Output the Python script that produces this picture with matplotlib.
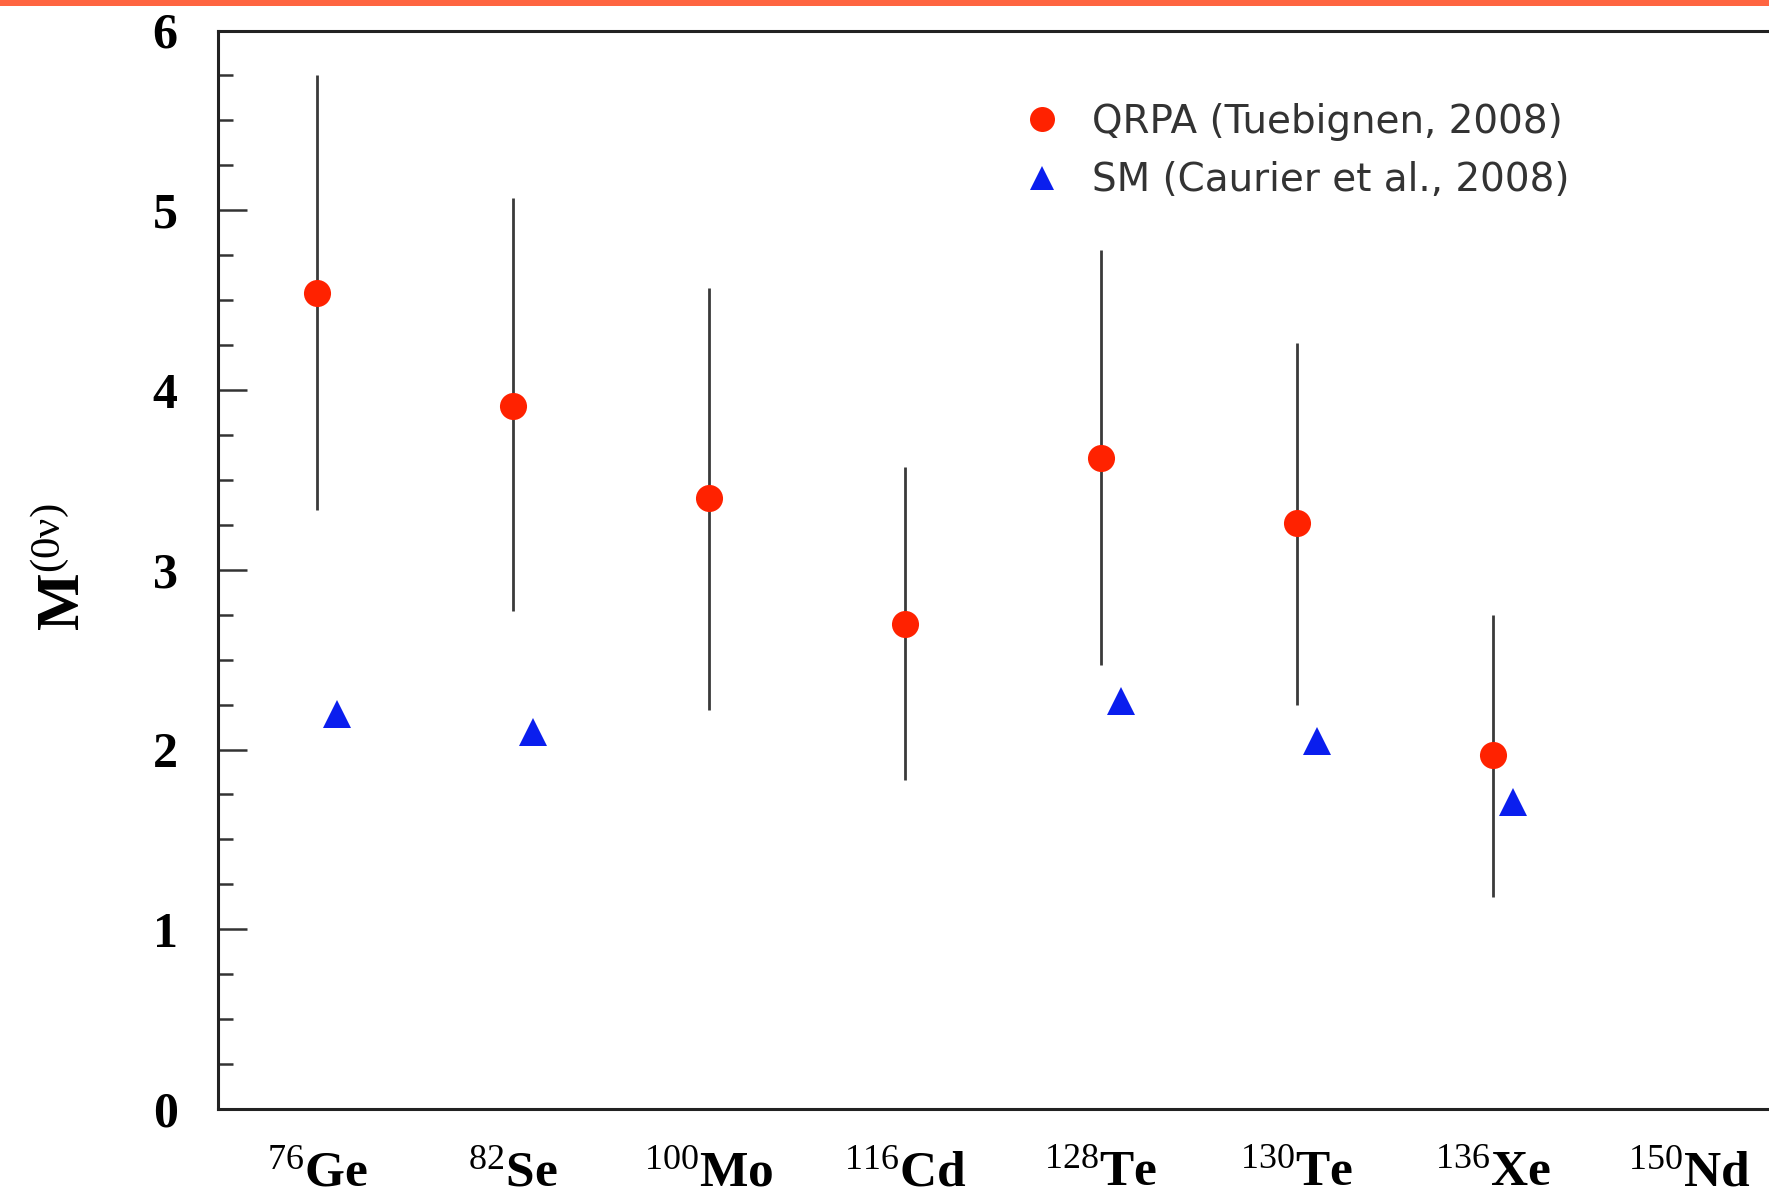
import numpy as np
import matplotlib
matplotlib.use("Agg")
import matplotlib.pyplot as plt
from matplotlib.ticker import MultipleLocator, FixedLocator, NullFormatter

# Nuclear matrix elements for neutrinoless double-beta decay
isotopes = ["Ge", "Se", "Mo", "Cd", "Te", "Te", "Xe", "Nd"]
mass_numbers = ["76", "82", "100", "116", "128", "130", "136", "150"]

qrpa_value = [4.54, 3.91, 3.40, 2.70, 3.62, 3.26, 1.97]
qrpa_upper = [5.75, 5.07, 4.57, 3.57, 4.78, 4.26, 2.75]
qrpa_lower = [3.33, 2.77, 2.22, 1.83, 2.47, 2.25, 1.18]

sm_value = [2.20, 2.10, np.nan, np.nan, 2.27, 2.05, 1.71]

plt.rcParams["mathtext.fontset"] = "custom"
plt.rcParams["mathtext.rm"] = "Liberation Serif"
plt.rcParams["mathtext.bf"] = "Liberation Serif:bold"
plt.rcParams["mathtext.it"] = "Liberation Serif:italic"

W, H = 1769, 1199
fig = plt.figure(figsize=(W / 100, H / 100), dpi=100)
fig.patch.set_facecolor("white")

# orange strip along the top edge
fig.add_artist(plt.Rectangle((0, 1 - 6 / H), 1, 6 / H, transform=fig.transFigure,
                             facecolor="#FF6541", edgecolor="none"))

left_px, right_px, top_px, bottom_px = 218, 1800, 30.5, 1109
ax = fig.add_axes([left_px / W, 1 - bottom_px / H,
                   (right_px - left_px) / W, (bottom_px - top_px) / H])

x = np.arange(len(qrpa_value))
val = np.array(qrpa_value)
yerr = np.vstack([val - np.array(qrpa_lower), np.array(qrpa_upper) - val])

ax.errorbar(x, val, yerr=yerr, fmt="none", ecolor="#3a3a3a", elinewidth=2.0,
            capsize=0, zorder=2)
ax.plot(x, val, linestyle="none", marker="o", markersize=19.5,
        color="#FF2200", markeredgewidth=0, zorder=3,
        label="QRPA (Tuebignen, 2008)")
ax.plot(x + 0.1, sm_value, linestyle="none", marker="^", markersize=20,
        color="#0A1EEE", markeredgewidth=0, zorder=3,
        label="SM (Caurier et al., 2008)")

px_per_cat = 196.0
x0_px = 317.0
ax.set_xlim((left_px - x0_px) / px_per_cat, (right_px - x0_px) / px_per_cat)
ax.set_ylim(0, 6)

# y axis ticks
ax.yaxis.set_major_locator(MultipleLocator(1))
ax.yaxis.set_minor_locator(MultipleLocator(0.25))
ax.tick_params(axis="y", which="major", direction="in", length=21, width=1.8,
               color="#333333", pad=29)
ax.tick_params(axis="y", which="minor", direction="in", length=10.5, width=1.8,
               color="#333333")
for lab in ax.get_yticklabels():
    lab.set_fontfamily("Liberation Serif")
    lab.set_fontweight("bold")
    lab.set_fontsize(36)

# x axis: isotope labels, no tick marks
ax.xaxis.set_major_locator(FixedLocator(np.arange(len(isotopes))))
ax.set_xticklabels([r"$^{\mathrm{%s}}\mathbf{%s}$" % (a, s)
                    for a, s in zip(mass_numbers, isotopes)], fontsize=37)
ax.tick_params(axis="x", which="both", length=0, pad=27)
ax.xaxis.set_minor_formatter(NullFormatter())

for side in ["left", "bottom", "top"]:
    ax.spines[side].set_linewidth(2.2)
    ax.spines[side].set_color("#222222")
ax.spines["right"].set_visible(False)

fig.text(64 / W, 1 - 567 / H, r"$\mathbf{M}^{\mathrm{(0\nu)}}$", rotation=90,
         ha="center", va="center", fontsize=44)

leg = ax.legend(loc="upper left", bbox_to_anchor=(1023 / W, 1 - 103 / H),
                bbox_transform=fig.transFigure, frameon=False, borderpad=0,
                borderaxespad=0, handlelength=1.0, handletextpad=0.78,
                labelspacing=0.52, prop={"family": "DejaVu Sans", "size": 28})
for t in leg.get_texts():
    t.set_color("#333333")
handles = leg.legend_handles
handles[0].set_markersize(18)
handles[1].set_markersize(17)

fig.savefig("out.png", dpi=100)
